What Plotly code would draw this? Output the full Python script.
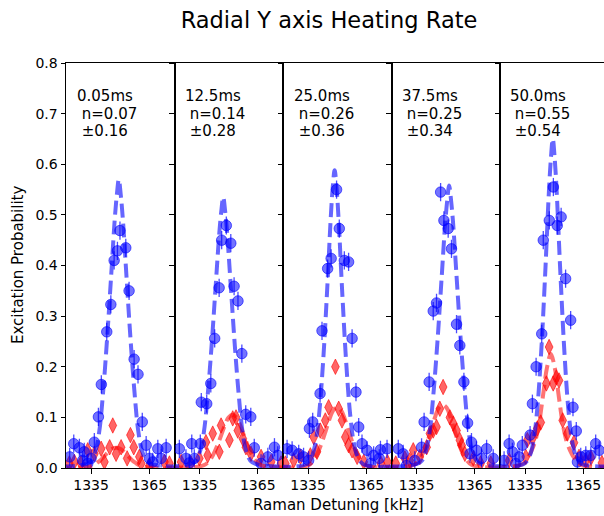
import plotly.graph_objects as go

# ---------------- data ----------------
times = ["0.05", "12.5", "25.0", "37.5", "50.0"]
nbar = ["0.07", "0.14", "0.26", "0.25", "0.55"]
nerr = ["0.16", "0.28", "0.36", "0.34", "0.54"]
x_ticks = [1335, 1365]

blue_x = [
    [1349.9, 1352.9, 1348.6, 1346.9, 1354.6, 1345.2, 1343.1, 1357.2, 1359.2, 1340.3, 1338.8, 1361.4,
     1336.7, 1363.4, 1326.1, 1329.0, 1331.5, 1324.0, 1335.0, 1333.3, 1365.1, 1369.4, 1373.7, 1371.1, 1366.8, 1330.7],
    [1348.8, 1346.4, 1351.1, 1345.1, 1352.8, 1354.8, 1342.8, 1356.8, 1340.8, 1335.9, 1338.7, 1358.8, 1361.4,
     1324.6, 1331.0, 1335.4, 1328.0, 1332.3, 1363.2, 1373.6, 1370.2, 1366.7, 1375.3, 1329.7],
    [1349.7, 1351.1, 1346.9, 1345.1, 1353.7, 1355.9, 1342.2, 1357.7, 1341.2, 1359.7, 1361.1, 1337.4, 1335.7,
     1362.8, 1324.2, 1326.8, 1330.2, 1332.7, 1335.3, 1365.4, 1368.8, 1372.3, 1375.7, 1367.3, 1371.7],
    [1347.4, 1349.1, 1351.3, 1353.0, 1345.3, 1343.6, 1355.6, 1357.3, 1341.5, 1359.4, 1338.9, 1361.3,
     1337.6, 1325.6, 1328.1, 1363.3, 1365.9, 1371.1, 1368.5, 1374.5, 1329.8, 1334.1, 1362.5],
    [1349.6, 1347.5, 1353.6, 1351.6, 1344.4, 1355.9, 1358.5, 1343.6, 1340.7, 1338.8, 1359.7, 1337.6, 1361.4,
     1326.8, 1333.6, 1371.4, 1328.5, 1331.9, 1324.2, 1363.7, 1366.3, 1368.9, 1373.2, 1330.2, 1362.0],
]
blue_y = [
    [0.469, 0.435, 0.429, 0.410, 0.350, 0.323, 0.269, 0.215, 0.185, 0.165, 0.101, 0.091,
     0.051, 0.045, 0.048, 0.040, 0.032, 0.022, 0.019, 0.009, 0.019, 0.038, 0.040, 0.019, 0.012, 0.015],
    [0.479, 0.450, 0.444, 0.356, 0.359, 0.330, 0.256, 0.226, 0.167, 0.130, 0.127, 0.106, 0.101,
     0.038, 0.048, 0.048, 0.019, 0.019, 0.040, 0.041, 0.022, 0.009, 0.025, 0.010],
    [0.550, 0.473, 0.414, 0.394, 0.410, 0.407, 0.271, 0.256, 0.147, 0.150, 0.081, 0.091, 0.078,
     0.048, 0.038, 0.035, 0.028, 0.022, 0.015, 0.035, 0.025, 0.036, 0.038, 0.009, 0.019],
    [0.545, 0.489, 0.473, 0.433, 0.326, 0.310, 0.284, 0.242, 0.170, 0.170, 0.091, 0.089,
     0.041, 0.038, 0.028, 0.051, 0.035, 0.038, 0.019, 0.019, 0.005, 0.015, 0.028],
    [0.555, 0.489, 0.496, 0.479, 0.450, 0.374, 0.292, 0.265, 0.200, 0.127, 0.120, 0.065, 0.073,
     0.048, 0.045, 0.048, 0.032, 0.022, 0.015, 0.022, 0.025, 0.025, 0.035, 0.009, 0.012],
]

red_x = [
    [1346.2, 1355.3, 1344.6, 1350.5, 1340.2, 1357.0, 1353.6, 1336.7, 1333.3, 1359.9, 1360.8, 1341.9,
     1326.4, 1323.8, 1372.8, 1375.4, 1365.1, 1329.8, 1347.9],
    [1338.3, 1341.8, 1346.1, 1352.1, 1353.8, 1339.2, 1345.2, 1350.4, 1354.7, 1357.3, 1358.9,
     1325.5, 1330.6, 1366.7, 1371.9, 1377.0, 1361.5, 1334.9],
    [1349.1, 1345.6, 1350.8, 1341.3, 1343.9, 1352.5, 1354.2, 1355.9, 1337.9, 1336.2, 1339.6, 1331.1,
     1327.6, 1360.3, 1363.7, 1357.7, 1323.3, 1372.5, 1375.9],
    [1348.7, 1347.0, 1352.2, 1345.3, 1355.6, 1357.3, 1359.9, 1341.9, 1340.2, 1333.3, 1329.0, 1343.6,
     1353.9, 1331.5, 1336.7, 1364.2, 1368.0, 1373.3, 1324.3, 1358.2],
    [1347.4, 1346.0, 1351.1, 1352.5, 1349.5, 1343.1, 1341.3, 1339.0, 1336.2, 1354.4, 1356.8, 1360.2,
     1362.8, 1335.4, 1326.8, 1366.3, 1369.0, 1374.6],
]
red_y = [
    [0.084, 0.065, 0.041, 0.041, 0.038, 0.041, 0.019, 0.028, 0.035, 0.022, 0.009, 0.012,
     0.012, 0.009, 0.012, 0.009, 0.005, 0.009, 0.028],
    [0.051, 0.068, 0.084, 0.098, 0.100, 0.025, 0.032, 0.055, 0.074, 0.058, 0.041,
     0.012, 0.009, 0.022, 0.012, 0.009, 0.028, 0.019],
    [0.200, 0.120, 0.117, 0.074, 0.094, 0.094, 0.061, 0.045, 0.061, 0.025, 0.032, 0.022,
     0.015, 0.022, 0.012, 0.035, 0.009, 0.009, 0.012],
    [0.160, 0.117, 0.100, 0.081, 0.074, 0.055, 0.028, 0.068, 0.041, 0.035, 0.019, 0.074,
     0.088, 0.015, 0.022, 0.019, 0.009, 0.009, 0.009, 0.045],
    [0.239, 0.167, 0.179, 0.173, 0.167, 0.090, 0.078, 0.060, 0.055, 0.094, 0.068, 0.050,
     0.022, 0.022, 0.015, 0.015, 0.020, 0.010],
]

# fitted curves
bfit_x = [
    [1319.3, 1334.3, 1337.3, 1339.3, 1341.3, 1343.3, 1345.3, 1347.3, 1348.3, 1349.3, 1350.3, 1351.3, 1353.3, 1355.3, 1357.3, 1359.3, 1361.3, 1364.3, 1379.3],
    [1317.2, 1332.2, 1335.2, 1337.2, 1339.2, 1341.2, 1343.2, 1345.2, 1346.2, 1347.2, 1348.2, 1349.2, 1351.2, 1353.2, 1355.2, 1357.2, 1359.2, 1362.2, 1377.2],
    [1318.7, 1333.7, 1336.7, 1338.7, 1340.7, 1342.7, 1344.7, 1346.7, 1347.7, 1348.7, 1349.7, 1350.7, 1352.7, 1354.7, 1356.7, 1358.7, 1360.7, 1363.7, 1378.7],
    [1321.8, 1336.8, 1339.8, 1341.8, 1343.8, 1345.8, 1347.8, 1349.8, 1350.8, 1351.8, 1352.8, 1353.8, 1355.8, 1357.8, 1359.8, 1361.8, 1363.8, 1366.8, 1381.8],
    [1319.3, 1334.3, 1337.3, 1339.3, 1341.3, 1343.3, 1345.3, 1347.3, 1348.3, 1349.3, 1350.3, 1351.3, 1353.3, 1355.3, 1357.3, 1359.3, 1361.3, 1364.3, 1379.3],
]
bfit_y = [
    [0.003, 0.011, 0.034, 0.074, 0.154, 0.257, 0.376, 0.496, 0.540, 0.570, 0.540, 0.496, 0.376, 0.257, 0.154, 0.074, 0.034, 0.011, 0.003],
    [0.003, 0.011, 0.032, 0.070, 0.144, 0.241, 0.353, 0.465, 0.507, 0.535, 0.507, 0.465, 0.353, 0.241, 0.144, 0.070, 0.032, 0.011, 0.003],
    [0.003, 0.007, 0.021, 0.047, 0.106, 0.206, 0.341, 0.494, 0.553, 0.588, 0.553, 0.494, 0.341, 0.206, 0.106, 0.047, 0.021, 0.007, 0.003],
    [0.003, 0.011, 0.033, 0.073, 0.151, 0.251, 0.368, 0.485, 0.528, 0.558, 0.528, 0.485, 0.368, 0.251, 0.151, 0.073, 0.033, 0.011, 0.003],
    [0.003, 0.008, 0.023, 0.052, 0.117, 0.228, 0.377, 0.546, 0.610, 0.650, 0.610, 0.546, 0.377, 0.228, 0.117, 0.052, 0.023, 0.008, 0.003],
]
rfit_x = [
    [1318.0, 1333.0, 1336.0, 1338.0, 1340.0, 1342.0, 1344.0, 1346.0, 1348.0, 1350.0, 1352.0, 1354.0, 1356.0, 1358.0, 1360.0, 1363.0, 1378.0],
    [1322.0, 1337.0, 1340.0, 1342.0, 1344.0, 1346.0, 1348.0, 1350.0, 1352.0, 1354.0, 1356.0, 1358.0, 1360.0, 1362.0, 1364.0, 1367.0, 1382.0],
    [1320.0, 1335.0, 1338.0, 1340.0, 1342.0, 1344.0, 1346.0, 1348.0, 1350.0, 1352.0, 1354.0, 1356.0, 1358.0, 1360.0, 1362.0, 1365.0, 1380.0],
    [1318.5, 1333.5, 1336.5, 1338.5, 1340.5, 1342.5, 1344.5, 1346.5, 1348.5, 1350.5, 1352.5, 1354.5, 1356.5, 1358.5, 1360.5, 1363.5, 1378.5],
    [1318.3, 1333.3, 1336.3, 1338.3, 1340.3, 1342.3, 1344.3, 1346.3, 1348.3, 1350.3, 1352.3, 1354.3, 1356.3, 1358.3, 1360.3, 1363.3, 1378.3],
]
rfit_y = [
    [0.000, 0.002, 0.005, 0.010, 0.016, 0.024, 0.032, 0.038, 0.040, 0.038, 0.032, 0.024, 0.016, 0.010, 0.005, 0.002, 0.000],
    [0.001, 0.005, 0.014, 0.026, 0.043, 0.063, 0.084, 0.100, 0.105, 0.100, 0.084, 0.063, 0.043, 0.026, 0.014, 0.005, 0.001],
    [0.001, 0.005, 0.016, 0.030, 0.049, 0.072, 0.096, 0.114, 0.120, 0.114, 0.096, 0.072, 0.049, 0.030, 0.016, 0.005, 0.001],
    [0.001, 0.006, 0.017, 0.031, 0.051, 0.075, 0.100, 0.119, 0.125, 0.119, 0.100, 0.075, 0.051, 0.031, 0.017, 0.006, 0.001],
    [0.001, 0.007, 0.020, 0.034, 0.054, 0.090, 0.144, 0.198, 0.225, 0.198, 0.144, 0.090, 0.054, 0.034, 0.020, 0.007, 0.001],
]

# ---------------- figure ----------------
FONT = "DejaVu Sans"
W, H = 604, 516
ML, MR, MT, MB = 66, 0, 63, 48
pw = W - ML - MR
ph = H - MT - MB
panel_px = 108.5
kHz_span = 55.9
x_left = 1322.1

fig = go.Figure()
n = len(times)
for i in range(n):
    xa = "x" if i == 0 else f"x{i+1}"
    ya = "y" if i == 0 else f"y{i+1}"
    fig.add_trace(go.Scatter(
        x=red_x[i], y=red_y[i], mode="markers", xaxis=xa, yaxis=ya,
        marker=dict(symbol="diamond-tall", size=11, color="rgba(255,0,0,0.6)",
                    line=dict(width=1, color="rgba(255,0,0,0.6)")),
        showlegend=False))
    fig.add_trace(go.Scatter(
        x=blue_x[i], y=blue_y[i], mode="markers", xaxis=xa, yaxis=ya,
        error_y=dict(type="constant", value=0.018, color="rgba(0,0,255,0.7)", thickness=1.3, width=0),
        marker=dict(symbol="circle", size=10.5, color="rgba(0,0,255,0.55)",
                    line=dict(width=1, color="rgba(0,0,255,0.6)")),
        showlegend=False))
    fig.add_trace(go.Scatter(
        x=rfit_x[i], y=rfit_y[i], mode="lines", xaxis=xa, yaxis=ya,
        line=dict(color="rgba(255,0,0,0.55)", width=4, dash="14px,6px", shape="spline"),
        showlegend=False))
    fig.add_trace(go.Scatter(
        x=bfit_x[i], y=bfit_y[i], mode="lines", xaxis=xa, yaxis=ya,
        line=dict(color="rgba(0,0,255,0.6)", width=4, dash="14px,6px", shape="spline"),
        showlegend=False))

layout = {}
for i in range(n):
    d0 = i * panel_px / pw
    d1 = min(1.0, (i + 1) * panel_px / pw)
    span = kHz_span * (d1 - d0) * pw / panel_px
    xk = "xaxis" if i == 0 else f"xaxis{i+1}"
    yk = "yaxis" if i == 0 else f"yaxis{i+1}"
    layout[xk] = dict(
        domain=[d0, d1], range=[x_left, x_left + span], anchor="y" if i == 0 else f"y{i+1}",
        tickvals=x_ticks, ticks="outside", ticklen=4.5, tickwidth=1, tickcolor="black",
        showgrid=False, zeroline=False, showline=True, linecolor="black", linewidth=1,
        mirror=True, tickfont=dict(family=FONT, size=14, color="black"))
    layout[yk] = dict(
        domain=[0, 1], range=[0, 0.8], anchor="x" if i == 0 else f"x{i+1}",
        tickvals=[0, 0.1, 0.2, 0.3, 0.4, 0.5, 0.6, 0.7, 0.8], tickformat=".1f",
        ticks="outside", ticklen=4.5, tickwidth=1, tickcolor="black",
        showticklabels=(i == 0), showgrid=False, zeroline=False,
        showline=True, linecolor="black", linewidth=1, mirror=(i < n - 1),
        tickfont=dict(family=FONT, size=14, color="black"))

annotations = []
line_centers_px = [96, 113.5, 131]
for i in range(n):
    xr = "x domain" if i == 0 else f"x{i+1} domain"
    yr = "y domain" if i == 0 else f"y{i+1} domain"
    lines = [f"{times[i]}ms", f"\u00a0n={nbar[i]}", f"\u00a0\u00b1{nerr[i]}"]
    for txt, cy in zip(lines, line_centers_px):
        annotations.append(dict(
            text=txt, xref=xr, yref=yr, x=8.5 / panel_px, y=(H - MB - cy) / ph,
            xanchor="left", yanchor="middle", showarrow=False, align="left",
            font=dict(family=FONT, size=15, color="black")))
annotations.append(dict(
    text="Raman Detuning [kHz]", xref="paper", yref="paper",
    x=(338 - ML) / pw, y=-(505 - (H - MB)) / ph, xanchor="center", yanchor="middle",
    showarrow=False, font=dict(family=FONT, size=15, color="black")))
annotations.append(dict(
    text="Excitation Probability", xref="paper", yref="paper",
    x=(17.5 - ML) / pw, y=0.5, xanchor="center", yanchor="middle", textangle=-90,
    showarrow=False, font=dict(family=FONT, size=15, color="black")))

fig.update_layout(
    width=W, height=H, margin=dict(l=ML, r=MR, t=MT, b=MB),
    paper_bgcolor="white", plot_bgcolor="white",
    title=dict(text="Radial Y axis Heating Rate", xref="container", yref="container",
               x=329 / W, y=1 - 20 / H, xanchor="center", yanchor="middle",
               font=dict(family=FONT, size=22.5, color="black")),
    annotations=annotations, **layout)

fig.write_html("out.html")
